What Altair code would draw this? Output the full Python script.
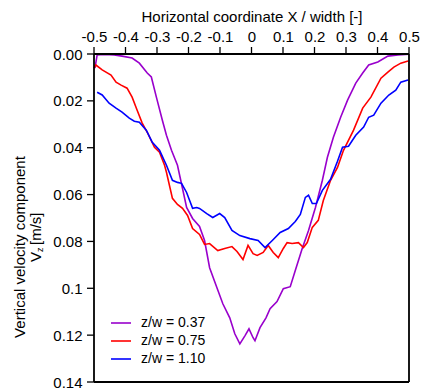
import altair as alt
import pandas as pd

# Vertical velocity profiles across the channel width at three heights
x_037 = [-0.497, -0.490, -0.468, -0.436, -0.411, -0.379, -0.356, -0.331, -0.318, -0.302,
         -0.283, -0.270, -0.254, -0.235, -0.219, -0.206, -0.187, -0.165, -0.149, -0.133,
         -0.110, -0.091, -0.069, -0.053, -0.037, -0.021, -0.008, 0.005, 0.011, 0.027,
         0.046, 0.059, 0.081, 0.101, 0.123, 0.139, 0.161, 0.181, 0.203, 0.225,
         0.241, 0.260, 0.283, 0.305, 0.331, 0.353, 0.372, 0.401, 0.433, 0.465, 0.500]
v_037 = [0.0060, 0.0004, 0.0002, 0.0004, 0.0009, 0.0017, 0.0039, 0.0081, 0.0098, 0.0184,
         0.0283, 0.0347, 0.0411, 0.0475, 0.0574, 0.0655, 0.0702, 0.0736, 0.0796, 0.0912,
         0.0997, 0.1066, 0.1126, 0.1194, 0.1237, 0.1203, 0.1173, 0.1211, 0.1224, 0.1168,
         0.1126, 0.1087, 0.1057, 0.1002, 0.0993, 0.0924, 0.0830, 0.0753, 0.0655, 0.0539,
         0.0441, 0.0355, 0.0270, 0.0197, 0.0124, 0.0081, 0.0047, 0.0034, 0.0009, 0.0004, 0.0001]

x_075 = [-0.500, -0.494, -0.474, -0.446, -0.430, -0.414, -0.395, -0.379, -0.363, -0.347,
         -0.331, -0.308, -0.292, -0.276, -0.270, -0.251, -0.235, -0.219, -0.203, -0.187,
         -0.165, -0.149, -0.133, -0.107, -0.085, -0.062, -0.046, -0.027, -0.011, 0.005,
         0.018, 0.037, 0.053, 0.069, 0.085, 0.101, 0.113, 0.129, 0.149, 0.165,
         0.177, 0.193, 0.212, 0.228, 0.251, 0.273, 0.292, 0.324, 0.353, 0.379,
         0.411, 0.433, 0.452, 0.474, 0.497]
v_075 = [0.0060, 0.0047, 0.0068, 0.0090, 0.0120, 0.0133, 0.0146, 0.0184, 0.0240, 0.0295,
         0.0334, 0.0398, 0.0419, 0.0475, 0.0505, 0.0616, 0.0642, 0.0659, 0.0689, 0.0745,
         0.0770, 0.0813, 0.0809, 0.0839, 0.0830, 0.0822, 0.0843, 0.0877, 0.0817, 0.0852,
         0.0860, 0.0847, 0.0817, 0.0847, 0.0869, 0.0830, 0.0805, 0.0809, 0.0805, 0.0826,
         0.0805, 0.0740, 0.0710, 0.0625, 0.0539, 0.0484, 0.0411, 0.0325, 0.0231, 0.0184,
         0.0103, 0.0077, 0.0056, 0.0039, 0.0030]

x_110 = [-0.490, -0.474, -0.452, -0.430, -0.411, -0.388, -0.372, -0.356, -0.334, -0.315,
         -0.292, -0.270, -0.251, -0.235, -0.222, -0.206, -0.187, -0.174, -0.165, -0.142,
         -0.123, -0.101, -0.085, -0.062, -0.037, -0.005, 0.021, 0.043, 0.066, 0.091,
         0.117, 0.139, 0.155, 0.171, 0.181, 0.193, 0.206, 0.225, 0.251, 0.273,
         0.289, 0.308, 0.331, 0.356, 0.372, 0.388, 0.411, 0.436, 0.458, 0.474, 0.497]
v_110 = [0.0163, 0.0175, 0.0210, 0.0231, 0.0248, 0.0274, 0.0287, 0.0291, 0.0325, 0.0377,
         0.0411, 0.0475, 0.0539, 0.0548, 0.0552, 0.0591, 0.0659, 0.0655, 0.0659, 0.0681,
         0.0698, 0.0681, 0.0698, 0.0753, 0.0775, 0.0788, 0.0796, 0.0826, 0.0796, 0.0762,
         0.0745, 0.0715, 0.0685, 0.0612, 0.0603, 0.0638, 0.0638, 0.0582, 0.0535, 0.0458,
         0.0398, 0.0394, 0.0347, 0.0312, 0.0270, 0.0261, 0.0210, 0.0175, 0.0154, 0.0120, 0.0111]

series_names = ["z/w = 0.37", "z/w = 0.75", "z/w = 1.10"]
series_colors = ["#9900CC", "#FF0000", "#0000FF"]
x_ticks = [-0.5, -0.4, -0.3, -0.2, -0.1, 0.0, 0.1, 0.2, 0.3, 0.4, 0.5]
y_ticks = [0.0, 0.02, 0.04, 0.06, 0.08, 0.1, 0.12, 0.14]

rows = []
for name, xs, vs in zip(series_names, [x_037, x_075, x_110], [v_037, v_075, v_110]):
    for i, (xv, vv) in enumerate(zip(xs, vs)):
        rows.append({"series": name, "x": xv, "v": vv, "i": i})
df = pd.DataFrame(rows)

FONT = "Liberation Sans"
W, H = 315, 328
TICK = 7

x_scale = alt.Scale(domain=[-0.5, 0.5], nice=False, zero=False)
y_scale = alt.Scale(domain=[0, 0.14], reverse=True, nice=False, zero=False)

# axes carry only labels and title; frame and ticks are drawn as rules
x_axis = alt.Axis(
    orient="top", values=x_ticks,
    title="Horizontal coordinate X / width [-]",
    labelExpr="abs(datum.value) < 1e-9 ? '0' : replace(format(datum.value, '.1f'), '\u2212', '-')",
    labelOverlap=False, labelBound=False, labelFlush=False,
    ticks=False, domain=False, grid=False,
    labelFont=FONT, labelFontSize=15, labelColor="black", labelPadding=10,
    titleFont=FONT, titleFontSize=15, titleColor="black", titleFontWeight="normal",
    titlePadding=5,
)
y_axis = alt.Axis(
    values=y_ticks, title=None,
    labelExpr="abs(datum.value - 0.1) < 1e-9 ? '0.1' : format(datum.value, '.2f')",
    labelOverlap=False, labelBound=False, labelFlush=False,
    ticks=False, domain=False, grid=False,
    labelFont=FONT, labelFontSize=15, labelColor="black", labelPadding=12,
)

lines = alt.Chart(df).mark_line(strokeWidth=1.6).encode(
    x=alt.X("x:Q", scale=x_scale, axis=x_axis),
    y=alt.Y("v:Q", scale=y_scale, axis=y_axis),
    color=alt.Color(
        "series:N",
        scale=alt.Scale(domain=series_names, range=series_colors),
        legend=alt.Legend(
            orient="none", legendX=16, legendY=258, title=None,
            symbolType="stroke", symbolSize=400, symbolStrokeWidth=1.6,
            labelFontSize=14, labelFont=FONT, labelColor="black", labelOffset=9,
            rowPadding=-2, padding=0,
        ),
    ),
    order="i:Q",
)

one = pd.DataFrame({"a": [0]})

# plot frame
left_edge = alt.Chart(one).mark_rule(color="black", strokeWidth=1.8).encode(
    x=alt.value(0), y=alt.value(0), y2=alt.value(H)
)
right_edge = alt.Chart(one).mark_rule(color="black", strokeWidth=1.8).encode(
    x=alt.value(W), y=alt.value(0), y2=alt.value(H)
)
top_edge = alt.Chart(one).mark_rule(color="black", strokeWidth=1.8).encode(
    y=alt.value(0), x=alt.value(0), x2=alt.value(W)
)
bottom_edge = alt.Chart(one).mark_rule(color="black", strokeWidth=1.8).encode(
    y=alt.value(H), x=alt.value(0), x2=alt.value(W)
)

# outward tick marks on the top and left axes
x_tick_marks = alt.Chart(pd.DataFrame({"t": x_ticks})).mark_rule(color="black", strokeWidth=1.3).encode(
    x=alt.X("t:Q", scale=x_scale, axis=None), y=alt.value(-TICK), y2=alt.value(0)
)
y_tick_marks = alt.Chart(pd.DataFrame({"t": y_ticks})).mark_rule(color="black", strokeWidth=1.3).encode(
    y=alt.Y("t:Q", scale=y_scale, axis=None), x=alt.value(-TICK), x2=alt.value(0)
)

ytitle_1 = alt.Chart(one).mark_text(
    text="Vertical velocity component", angle=270, align="center", baseline="middle",
    font=FONT, fontSize=15, color="black",
).encode(x=alt.value(-74), y=alt.value(193))
ytitle_v = alt.Chart(one).mark_text(
    text="V", angle=270, align="left", baseline="middle",
    font=FONT, fontSize=15, color="black",
).encode(x=alt.value(-58), y=alt.value(208))
ytitle_z = alt.Chart(one).mark_text(
    text="z", angle=270, align="left", baseline="middle",
    font=FONT, fontSize=9, color="black",
).encode(x=alt.value(-54), y=alt.value(198))
ytitle_u = alt.Chart(one).mark_text(
    text="[m/s]", angle=270, align="left", baseline="middle",
    font=FONT, fontSize=15, color="black",
).encode(x=alt.value(-58), y=alt.value(191))

chart = alt.layer(
    lines, left_edge, right_edge, top_edge, bottom_edge, x_tick_marks, y_tick_marks,
    ytitle_1, ytitle_v, ytitle_z, ytitle_u,
).resolve_axis(
    x="independent", y="independent",
).properties(
    width=W, height=H,
    background="white",
    autosize=alt.AutoSizeParams(type="none"),
    padding={"left": 94, "top": 54, "right": 12, "bottom": 7},
).configure_view(
    stroke=None,
)

chart.save("out.html", embed_options={"renderer": "svg", "actions": False})
